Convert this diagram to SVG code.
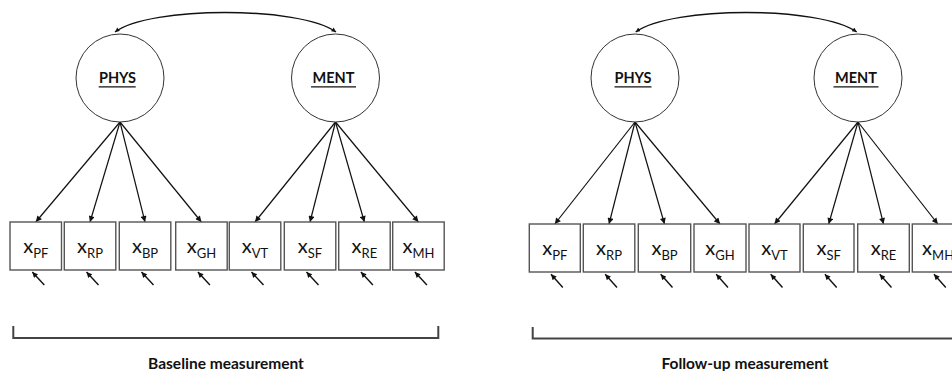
<svg xmlns="http://www.w3.org/2000/svg" width="952" height="371" viewBox="0 0 952 371">
<style>
.lat{fill:#fff;stroke:#333;stroke-width:1}
.lt{font-family:Lato,"Liberation Sans",sans-serif;font-weight:bold;font-size:14.5px;fill:#111;text-anchor:middle}
.ul{stroke:#111;stroke-width:1.3}
.box{fill:#fff;stroke:#555;stroke-width:1.4}
.bt{font-family:Lato,"Liberation Sans",sans-serif;font-size:20px;fill:#111;text-anchor:middle}
.sub{font-size:13px}
.ld{stroke:#111;stroke-width:1.2;fill:none;marker-end:url(#ah)}
.er{stroke:#111;stroke-width:1.4;fill:none;marker-end:url(#ahs)}
.cv{stroke:#111;stroke-width:1.4;fill:none;marker-start:url(#ahc);marker-end:url(#ahc)}
.br{stroke:#444;stroke-width:2;fill:none}
.cap{font-family:Lato,"Liberation Sans",sans-serif;font-weight:bold;font-size:15.5px;fill:#111;text-anchor:middle}
</style>
<defs>
<marker id="ah" viewBox="0 0 10 10" refX="10" refY="5" markerWidth="7" markerHeight="6" orient="auto" markerUnits="userSpaceOnUse"><path d="M0,0 L10,5 L0,10 z" fill="#111"/></marker>
<marker id="ahs" viewBox="0 0 10 10" refX="10" refY="5" markerWidth="6.5" markerHeight="5.5" orient="auto" markerUnits="userSpaceOnUse"><path d="M0,0 L10,5 L0,10 z" fill="#111"/></marker>
<marker id="ahc" viewBox="0 0 10 10" refX="10" refY="5" markerWidth="5" markerHeight="4.5" orient="auto-start-reverse" markerUnits="userSpaceOnUse"><path d="M0,0 L10,5 L0,10 z" fill="#111"/></marker>
</defs>

<g id="connectors">
<path class="cv" d="M115,32 C150,6 300,6 336,32"/>
<line class="ld" x1="120" y1="122" x2="35.8" y2="222"/>
<line class="ld" x1="120" y1="122" x2="90" y2="222"/>
<line class="ld" x1="120" y1="122" x2="145" y2="222"/>
<line class="ld" x1="120" y1="122" x2="201.4" y2="222"/>
<line class="ld" x1="335.5" y1="122" x2="255" y2="222"/>
<line class="ld" x1="335.5" y1="122" x2="310" y2="222"/>
<line class="ld" x1="335.5" y1="122" x2="364.4" y2="222"/>
<line class="ld" x1="335.5" y1="122" x2="418.4" y2="222"/>
<line class="er" x1="44.3" y1="285" x2="32.3" y2="272"/>
<line class="er" x1="98.5" y1="285" x2="86.5" y2="272"/>
<line class="er" x1="153.5" y1="285" x2="141.5" y2="272"/>
<line class="er" x1="209.9" y1="285" x2="197.9" y2="272"/>
<line class="er" x1="263.5" y1="285" x2="251.5" y2="272"/>
<line class="er" x1="318.5" y1="285" x2="306.5" y2="272"/>
<line class="er" x1="372.9" y1="285" x2="360.9" y2="272"/>
<line class="er" x1="426.9" y1="285" x2="414.9" y2="272"/>

<path class="cv" d="M635.7,32 C672,6 820,6 856.7,32"/>
<line class="ld" x1="635" y1="122" x2="554.8" y2="224"/>
<line class="ld" x1="635" y1="122" x2="609" y2="224"/>
<line class="ld" x1="635" y1="122" x2="664.5" y2="224"/>
<line class="ld" x1="635" y1="122" x2="720" y2="224"/>
<line class="ld" x1="858" y1="122" x2="774.5" y2="224"/>
<line class="ld" x1="858" y1="122" x2="828.7" y2="224"/>
<line class="ld" x1="858" y1="122" x2="883.5" y2="224"/>
<line class="ld" x1="858" y1="122" x2="937.8" y2="224"/>
<line class="er" x1="562.8" y1="287.5" x2="551" y2="274.3"/>
<line class="er" x1="617" y1="287.5" x2="605.2" y2="274.3"/>
<line class="er" x1="672.5" y1="287.5" x2="660.7" y2="274.3"/>
<line class="er" x1="728" y1="287.5" x2="716.2" y2="274.3"/>
<line class="er" x1="782.5" y1="287.5" x2="770.7" y2="274.3"/>
<line class="er" x1="836.7" y1="287.5" x2="824.9" y2="274.3"/>
<line class="er" x1="891.5" y1="287.5" x2="879.7" y2="274.3"/>
<line class="er" x1="945.8" y1="287.5" x2="934" y2="274.3"/>
</g>

<g id="phys1"><circle class="lat" cx="120" cy="78" r="44"/><text class="lt" x="117.5" y="83">PHYS</text><line class="ul" x1="98.7" y1="86.8" x2="135.7" y2="86.8"/></g>
<g id="ment1"><circle class="lat" cx="335.5" cy="78" r="44"/><text class="lt" x="333.5" y="83">MENT</text><line class="ul" x1="311" y1="86.8" x2="356" y2="86.8"/></g>

<g id="pf1"><rect class="box" x="10" y="222" width="51.5" height="48"/><text class="bt" x="35.8" y="252.5">x<tspan class="sub" dy="5">PF</tspan></text></g>
<g id="rp1"><rect class="box" x="64.3" y="222" width="51.5" height="48"/><text class="bt" x="90" y="252.5">x<tspan class="sub" dy="5">RP</tspan></text></g>
<g id="bp1"><rect class="box" x="119.3" y="222" width="51.5" height="48"/><text class="bt" x="145" y="252.5">x<tspan class="sub" dy="5">BP</tspan></text></g>
<g id="gh1"><rect class="box" x="175.7" y="222" width="51.5" height="48"/><text class="bt" x="201.4" y="252.5">x<tspan class="sub" dy="5">GH</tspan></text></g>
<g id="vt1"><rect class="box" x="229.3" y="222" width="51.5" height="48"/><text class="bt" x="255" y="252.5">x<tspan class="sub" dy="5">VT</tspan></text></g>
<g id="sf1"><rect class="box" x="284.3" y="222" width="51.5" height="48"/><text class="bt" x="310" y="252.5">x<tspan class="sub" dy="5">SF</tspan></text></g>
<g id="re1"><rect class="box" x="338.7" y="222" width="51.5" height="48"/><text class="bt" x="364.4" y="252.5">x<tspan class="sub" dy="5">RE</tspan></text></g>
<g id="mh1"><rect class="box" x="392.7" y="222" width="51.5" height="48"/><text class="bt" x="418.4" y="252.5">x<tspan class="sub" dy="5">MH</tspan></text></g>

<g id="baseline"><path class="br" d="M13.3,326 V338 H438.3 V326"/><text class="cap" x="226" y="369">Baseline measurement</text></g>

<g id="phys2"><circle class="lat" cx="635" cy="78" r="44"/><text class="lt" x="633" y="83">PHYS</text><line class="ul" x1="614.5" y1="86.8" x2="651.5" y2="86.8"/></g>
<g id="ment2"><circle class="lat" cx="858" cy="78" r="44"/><text class="lt" x="856" y="83">MENT</text><line class="ul" x1="833.5" y1="86.8" x2="878.5" y2="86.8"/></g>

<g id="pf2"><rect class="box" x="529.3" y="224" width="51" height="48"/><text class="bt" x="554.8" y="254.5">x<tspan class="sub" dy="5">PF</tspan></text></g>
<g id="rp2"><rect class="box" x="583.3" y="224" width="51.5" height="48"/><text class="bt" x="609" y="254.5">x<tspan class="sub" dy="5">RP</tspan></text></g>
<g id="bp2"><rect class="box" x="638.3" y="224" width="52.4" height="48"/><text class="bt" x="664.5" y="254.5">x<tspan class="sub" dy="5">BP</tspan></text></g>
<g id="gh2"><rect class="box" x="694" y="224" width="52" height="48"/><text class="bt" x="720" y="254.5">x<tspan class="sub" dy="5">GH</tspan></text></g>
<g id="vt2"><rect class="box" x="749" y="224" width="51" height="48"/><text class="bt" x="774.5" y="254.5">x<tspan class="sub" dy="5">VT</tspan></text></g>
<g id="sf2"><rect class="box" x="803.3" y="224" width="50.7" height="48"/><text class="bt" x="828.7" y="254.5">x<tspan class="sub" dy="5">SF</tspan></text></g>
<g id="re2"><rect class="box" x="857.7" y="224" width="51.6" height="48"/><text class="bt" x="883.5" y="254.5">x<tspan class="sub" dy="5">RE</tspan></text></g>
<g id="mh2"><rect class="box" x="912.3" y="224" width="51.6" height="48"/><text class="bt" x="938.1" y="254.5">x<tspan class="sub" dy="5">MH</tspan></text></g>

<g id="followup"><path class="br" d="M532.7,327 V338.5 H953"/><text class="cap" x="745" y="369">Follow-up measurement</text></g>
</svg>
